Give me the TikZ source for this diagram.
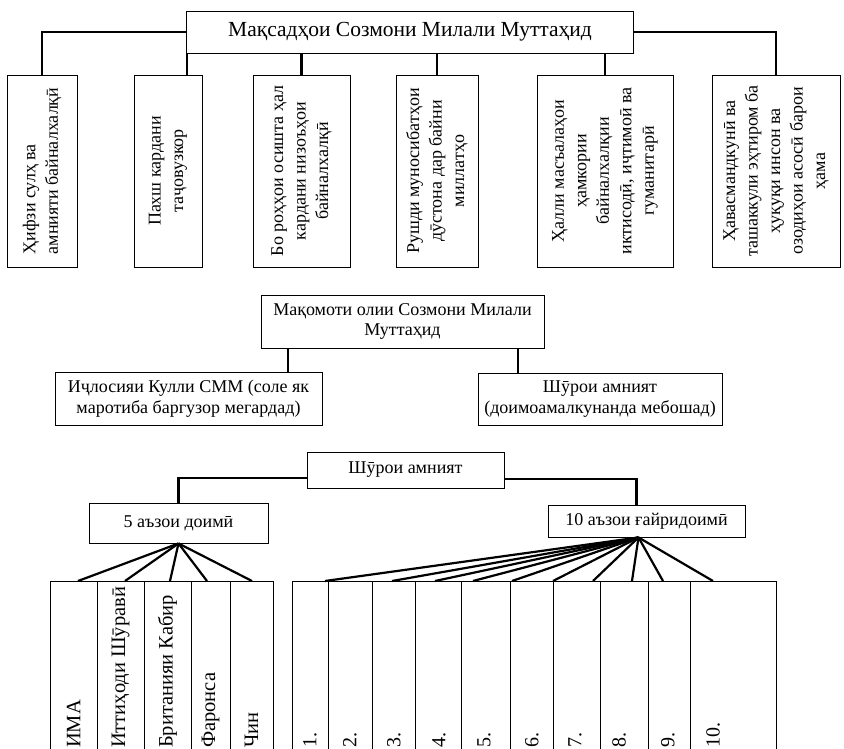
\documentclass[tikz,border=0pt]{standalone}
\usepackage{fontspec}
\setmainfont{Liberation Serif}
\usetikzlibrary{positioning, calc}

\tikzset{
    box/.style={draw, line width=0.9pt, inner sep=0pt, align=center,
        font=\fontsize{18}{20.5}\selectfont},
    vtext/.style={rotate=90, align=center, inner sep=0pt,
        font=\fontsize{18}{22.5}\selectfont},
    link/.style={line width=2.8pt},
    fan/.style={line width=2.2pt}
}
% goal box: name, left, right, text, align
\newcommand{\GoalBox}[5]{
    \node[box, minimum width={#3-#2}, minimum height=192] (#1) at ({(#2+#3)/2},171) {};
    \node[vtext, align=#5] at (#1.center) {#4};
}

\begin{document}
\begin{tikzpicture}[x=1pt, y=-1pt]
    \useasboundingbox (0,0) rectangle (844,749);
    \clip (0,0) rectangle (844,749);

    % --- GOALS ---
    \node[box, minimum width=447, minimum height=42, font=\fontsize{21.5}{25}\selectfont]
        (goals) at (410,32) {Мақсадҳои Созмони Милали Муттаҳид};

    \GoalBox{g1}{7}{77}{Ҳифзи сулҳ ва\\амнияти байналхалқӣ}{left}
    \GoalBox{g2}{134}{202}{Пахш кардани\\таҷовузкор}{center}
    \GoalBox{g3}{253}{350}{Бо роҳҳои осишта ҳал\\кардани низоъҳои\\байналхалқӣ}{center}
    \GoalBox{g4}{396}{478}{Рушди муносибатҳои\\дӯстона дар байни\\миллатҳо}{center}
    \GoalBox{g5}{537}{673}{Ҳалли масъалаҳои\\ҳамкории\\байналхалқии\\иктисодӣ, иҷтимоӣ ва\\гуманитарӣ}{center}
    \GoalBox{g6}{712}{840}{Ҳавасмандкунӣ ва\\ташаккули эҳтиром ба\\ҳуқуқи инсон ва\\озодиҳои асосӣ барои\\ҳама}{center}

    \draw[link] (goals.west) -| (g1.north);
    \draw[link] (goals.east) -| (g6.north);
    \draw[link] (187,0 |- goals.south) -- (187,0 |- g2.north);
    \foreach \g in {g3,g4,g5}
        \draw[link] (\g.north) -- (\g.north |- goals.south);

    % --- ORGANS ---
    \node[box, minimum width=283, minimum height=53] (organs) at (402.5,321.5)
        {Мақомоти олии Созмони Милали\\Муттаҳид};
    \node[box, minimum width=267, minimum height=53] (assembly) at (188.5,398.5)
        {Иҷлосияи Кулли СММ (соле як\\маротиба баргузор мегардад)};
    \node[box, minimum width=244, minimum height=52] (council) at (600,399)
        {Шӯрои амният\\(доимоамалкунанда мебошад)};
    \draw[link] (288,0 |- organs.south) -- (288,0 |- assembly.north);
    \draw[link] (518,0 |- organs.south) -- (518,0 |- council.north);

    % --- SECURITY COUNCIL ---
    \node[box, minimum width=197, minimum height=36] (sc) at (405.5,470) {Шӯрои амният};
    \node[box, minimum width=179, minimum height=40] (perm) at (178.5,523) {5 аъзои доимӣ};
    \node[box, minimum width=197, minimum height=32] (nonperm) at (646.5,521) {10 аъзои ғайридоимӣ};
    \draw[link] ([yshift=-8pt]sc.west) -| (perm.north);
    \draw[link] ([yshift=-9pt]sc.east) -| ([xshift=-10pt]nonperm.north);

    % permanent members
    \foreach \a/\b/\n [count=\i] in {50/97/ИМА, 97/144/Иттиҳоди Шӯравӣ,
            144/191/Британияи Кабир, 191/230/Фаронса, 230/273/Чин} {
        \node[box, minimum width=\b-\a, minimum height=200, anchor=north] (p\i) at ({(\a+\b)/2},581) {};
        \node[vtext, anchor=west, font=\fontsize{20.5}{22}\selectfont] at (p\i.center |- 0,748) {\n};
    }
    \foreach \x in {78,125,170,207,252}
        \draw[fan] (perm.south) -- (\x,0 |- p1.north);

    % non-permanent members
    \foreach \a/\b/\t [count=\i] in {292/328/310, 328/372/350, 372/415/394, 415/461/439,
            461/510/484, 510/553/532, 553/600/575, 600/648/619, 648/690/668, 690/776/713} {
        \node[box, minimum width=\b-\a, minimum height=200, anchor=north] (n\i) at ({(\a+\b)/2},581) {};
        \node[vtext, anchor=west, font=\fontsize{20}{22}\selectfont] at (\t,748) {\i.};
    }
    \foreach \x in {325,392,435,473,512,553,593,632,663,713}
        \draw[fan] ([xshift=-8pt]nonperm.south) -- (\x,0 |- n1.north);

\end{tikzpicture}
\end{document}
